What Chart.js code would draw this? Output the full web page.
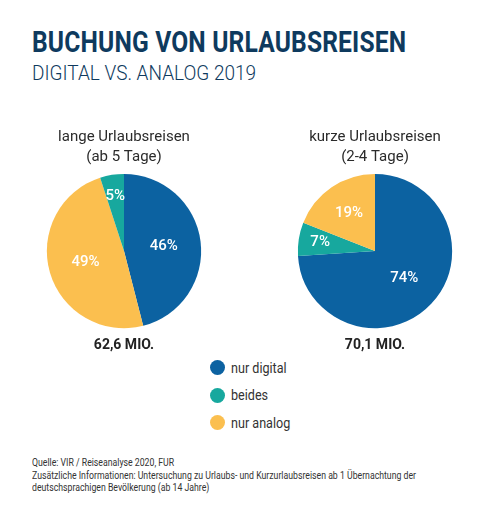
<!DOCTYPE html>
<html lang="de">
<head>
    <meta charset="UTF-8">
    <title>Buchung von Urlaubsreisen</title>
    <script src="https://cdn.jsdelivr.net/npm/chart.js"></script>
    <style>
        body { margin: 0; background: #fff; font-family: Roboto, sans-serif; color: #2b2b2b; }
        .page { position: relative; width: 499px; height: 512px; overflow: hidden; }
        .title { position: absolute; left: 32px; top: 24px; font-size: 30px; font-weight: 700; color: #0e3a5e;
                 white-space: nowrap; transform: scaleX(0.82); transform-origin: left top; letter-spacing: 0.2px; }
        .subtitle { position: absolute; left: 32px; top: 61px; font-size: 20px; font-weight: 300; color: #0e3a5e;
                    white-space: nowrap; transform: scaleX(0.95); transform-origin: left top; }
        .chart-box { position: absolute; top: 127px; width: 248px; height: 227px; }
        #boxLong { left: 0; }
        #boxShort { left: 251px; }
        .legend { position: absolute; left: 210px; top: 354px; }
        .legend div { height: 27.5px; display: flex; align-items: center; font-size: 15px; color: #333; }
        .legend span.dot { width: 15px; height: 15px; border-radius: 50%; margin-right: 6px; display: inline-block; }
        .legend span.txt { display: inline-block; transform: scaleX(0.84); transform-origin: left center; }
        .source { position: absolute; left: 32px; top: 457px; font-size: 10.5px; line-height: 12.5px; color: #333;
                  white-space: nowrap; transform: scaleX(0.83); transform-origin: left top; }
    </style>
</head>
<body>
<div class="page">
    <div class="title">BUCHUNG VON URLAUBSREISEN</div>
    <div class="subtitle">DIGITAL VS. ANALOG 2019</div>

    <div class="chart-box" id="boxLong"><canvas id="longChart"></canvas></div>
    <div class="chart-box" id="boxShort"><canvas id="shortChart"></canvas></div>

    <div class="legend" id="legend"></div>

    <div class="source">
        Quelle: VIR / Reiseanalyse 2020, FUR<br>
        Zusätzliche Informationen: Untersuchung zu Urlaubs- und Kurzurlaubsreisen ab 1 Übernachtung der<br>
        deutschsprachigen Bevölkerung (ab 14 Jahre)
    </div>
</div>

<script>
    // Kategorien und Farben
    var categories = ['nur digital', 'beides', 'nur analog'];
    var colors = { 'nur digital': '#0c62a1', 'beides': '#17a89e', 'nur analog': '#fbbf4f' };

    // lange Urlaubsreisen (ab 5 Tage) - Reihenfolge im Uhrzeigersinn
    var longLabels = ['nur digital', 'nur analog', 'beides'];
    var longValues = [46, 49, 5];
    var longTitle = ['lange Urlaubsreisen', '(ab 5 Tage)'];
    var longTotal = '62,6 MIO.';

    // kurze Urlaubsreisen (2-4 Tage)
    var shortLabels = ['nur digital', 'beides', 'nur analog'];
    var shortValues = [74, 7, 19];
    var shortTitle = ['kurze Urlaubsreisen', '(2-4 Tage)'];
    var shortTotal = '70,1 MIO.';

    // Prozentwerte in die Segmente schreiben
    var sliceLabels = {
        id: 'sliceLabels',
        afterDatasetsDraw: function(chart) {
            var ctx = chart.ctx;
            var meta = chart.getDatasetMeta(0);
            var data = chart.data.datasets[0].data;
            ctx.save();
            ctx.fillStyle = '#fff';
            ctx.font = '500 15px Roboto';
            ctx.textAlign = 'center';
            ctx.textBaseline = 'middle';
            meta.data.forEach(function(arc, i) {
                var p = arc.getProps(['x', 'y', 'startAngle', 'endAngle', 'outerRadius'], true);
                var mid = (p.startAngle + p.endAngle) / 2;
                var f = data[i] < 10 ? 0.72 : (data[i] < 30 ? 0.6 : 0.52);
                var r = p.outerRadius * f;
                ctx.fillText(data[i] + '%', p.x + Math.cos(mid) * r, p.y + Math.sin(mid) * r);
            });
            ctx.restore();
        }
    };

    function makePie(id, labels, values, title, total) {
        return new Chart(document.getElementById(id), {
            type: 'pie',
            data: {
                labels: labels,
                datasets: [{
                    data: values,
                    backgroundColor: labels.map(function(l) { return colors[l]; }),
                    borderWidth: 0
                }]
            },
            options: {
                responsive: true,
                maintainAspectRatio: false,
                animation: false,
                layout: { padding: 0 },
                plugins: {
                    legend: { display: false },
                    tooltip: { enabled: false },
                    title: {
                        display: true,
                        text: title,
                        color: '#2b2b2b',
                        font: { family: 'Roboto', size: 15, weight: 'normal', lineHeight: 1.33 },
                        padding: { top: 0, bottom: 7 }
                    },
                    subtitle: {
                        display: true,
                        position: 'bottom',
                        text: total,
                        color: '#222',
                        font: { family: 'Roboto', size: 14, weight: 'bold', lineHeight: 1.2 },
                        padding: { top: 9, bottom: 0 }
                    }
                }
            },
            plugins: [sliceLabels]
        });
    }

    makePie('longChart', longLabels, longValues, longTitle, longTotal);
    makePie('shortChart', shortLabels, shortValues, shortTitle, shortTotal);

    // gemeinsame Legende
    var legend = document.getElementById('legend');
    categories.forEach(function(c) {
        var row = document.createElement('div');
        row.innerHTML = '<span class="dot" style="background:' + colors[c] + '"></span><span class="txt">' + c + '</span>';
        legend.appendChild(row);
    });
</script>
</body>
</html>
